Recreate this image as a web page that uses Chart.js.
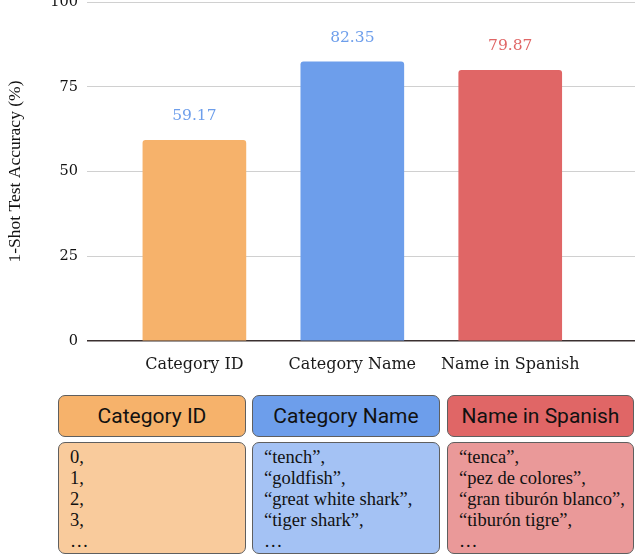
<!DOCTYPE html>
<html>
<head>
<meta charset="utf-8">
<script src="https://cdn.jsdelivr.net/npm/chart.js@4.4.0/dist/chart.umd.min.js"></script>
<style>
  html, body { margin: 0; padding: 0; background: #fff; }
  body { width: 636px; height: 558px; position: relative; overflow: hidden; }
  #chartWrap { position: absolute; left: 0; top: -20px; width: 636px; height: 400px; }
  .box {
    position: absolute; box-sizing: border-box;
    border: 1.5px solid #5f5f5f; border-radius: 7px;
  }
  .head {
    top: 395px; height: 42px;
    font-family: Roboto, "Noto Sans", sans-serif; font-size: 21px; color: #111;
    display: flex; align-items: center; justify-content: center;
  }
  .body {
    top: 442px; height: 112px; padding: 4px 0 0 11px;
    font-family: "Liberation Serif", serif; font-size: 18.5px; line-height: 21px; color: #111;
    white-space: pre;
  }
</style>
</head>
<body>
<div id="chartWrap"><canvas id="accChart" width="636" height="400"></canvas></div>

<div class="box head" style="left:58px;width:188px;background:#f6b26b;">Category ID</div>
<div class="box head" style="left:252px;width:188px;background:#6d9eeb;">Category Name</div>
<div class="box head" style="left:447px;width:187px;background:#e06666;">Name in Spanish</div>

<div class="box body" style="left:58px;width:188px;background:#f9cb9c;" id="list0"></div>
<div class="box body" style="left:252px;width:188px;background:#a4c2f4;" id="list1"></div>
<div class="box body" style="left:447px;width:187px;background:#ea9999;" id="list2"></div>

<script>
// chart data
const categories = ['Category ID', 'Category Name', 'Name in Spanish'];
const accuracy = [59.17, 82.35, 79.87];
const barColors = ['#f6b26b', '#6d9eeb', '#e06666'];
const labelColors = ['#6d9eeb', '#6d9eeb', '#e06666'];
const yTicks = [0, 25, 50, 75, 100];

// example prompts shown under the chart
const idExamples = ['0,', '1,', '2,', '3,', '…'];
const nameExamples = ['“tench”,', '“goldfish”,', '“great white shark”,', '“tiger shark”,', '…'];
const spanishExamples = ['“tenca”,', '“pez de colores”,', '“gran tiburón blanco”,', '“tiburón tigre”,', '…'];

[idExamples, nameExamples, spanishExamples].forEach((lines, i) => {
    document.getElementById('list' + i).textContent = lines.join('\n');
});

const serif = 'DejaVu Serif';

// value labels above the bars
const valueLabels = {
    id: 'valueLabels',
    afterDatasetsDraw(chart) {
        const ctx = chart.ctx;
        const meta = chart.getDatasetMeta(0);
        ctx.save();
        ctx.font = '15.5px "' + serif + '"';
        ctx.textAlign = 'center';
        ctx.textBaseline = 'middle';
        meta.data.forEach((bar, i) => {
            ctx.fillStyle = labelColors[i];
            ctx.fillText(accuracy[i].toFixed(2), bar.x, bar.y - 24);
        });
        ctx.restore();
    }
};

new Chart(document.getElementById('accChart'), {
    type: 'bar',
    data: {
        datasets: [{
            data: accuracy.map((v, i) => ({ x: i, y: v })),
            backgroundColor: barColors,
            borderRadius: 3,
            barThickness: 103
        }]
    },
    options: {
        responsive: false,
        animation: false,
        layout: { padding: { top: 22, right: 1, left: 0, bottom: 0 } },
        plugins: { legend: { display: false }, tooltip: { enabled: false } },
        scales: {
            x: {
                type: 'linear',
                min: -0.68,
                max: 2.79,
                offset: false,
                bounds: 'data',
                afterBuildTicks: scale => { scale.ticks = categories.map((c, i) => ({ value: i })); },
                afterFit: scale => { scale.height = 39; },
                grid: { display: false, offset: false },
                border: { display: false },
                ticks: {
                    callback: v => categories[v],
                    color: '#1a1a1a',
                    font: { family: serif, size: 16 },
                    padding: 6,
                    maxRotation: 0,
                    autoSkip: false
                }
            },
            y: {
                min: 0,
                max: 100,
                afterBuildTicks: scale => { scale.ticks = yTicks.map(v => ({ value: v })); },
                afterFit: scale => { scale.width = 87; },
                border: { display: false },
                grid: {
                    color: c => c.tick && c.tick.value === 0 ? '#3a3030' : '#d0d0d0',
                    lineWidth: c => c.tick && c.tick.value === 0 ? 1.5 : 1,
                    drawTicks: false
                },
                ticks: {
                    color: '#111',
                    font: { family: serif, size: 14.5 },
                    padding: 9
                },
                title: {
                    display: true,
                    text: '1-Shot Test Accuracy (%)',
                    color: '#111',
                    font: { family: 'Liberation Serif', size: 17.5 },
                    padding: { top: 5, bottom: 0 }
                }
            }
        }
    },
    plugins: [valueLabels]
});
</script>
</body>
</html>
